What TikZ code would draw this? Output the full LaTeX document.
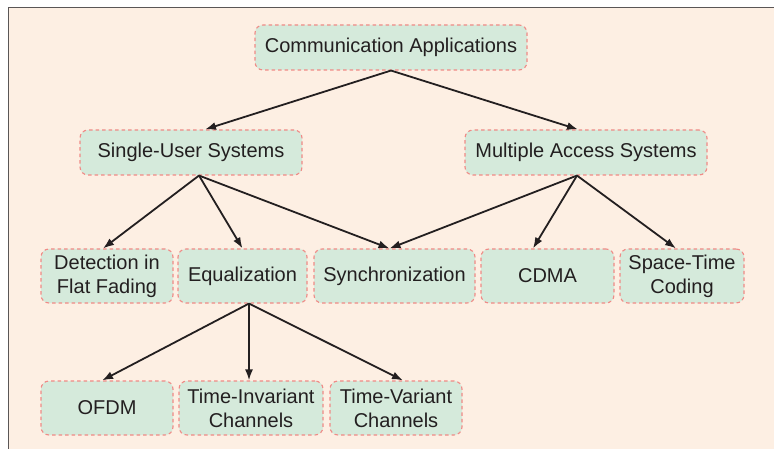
\documentclass[tikz,border=0pt]{standalone}
\usepackage{fontspec}
\setmainfont{Liberation Sans}
\usetikzlibrary{arrows.meta}
\definecolor{bgbeige}{HTML}{FDEFE3}
\definecolor{boxgreen}{HTML}{D5EADB}
\definecolor{boxedge}{HTML}{F08A86}
\definecolor{inkdark}{HTML}{231F20}
\definecolor{framegray}{HTML}{5A5656}
\begin{document}
\begin{tikzpicture}[x=1pt,y=-1pt,
  topic/.style={draw=boxedge, fill=boxgreen, line width=1.1pt, dash pattern=on 3.5pt off 3pt,
    rounded corners=8pt, inner sep=0pt, text=inkdark, align=center,
    font=\fontsize{20}{24}\selectfont, minimum height=45pt},
  tall/.style={minimum height=54pt},
  link/.style={draw=inkdark, line width=1.8pt, -{Latex[length=11pt,width=8pt]}}
]
\useasboundingbox (0,0) rectangle (774,449);
\fill[white] (0,0) rectangle (774,449);
\fill[bgbeige] (8.5,7.5) rectangle (774,449);
\draw[framegray, line width=1.5pt] (8.5,449) -- (8.5,7.5) -- (774,7.5);

\node[topic, minimum width=272pt] (comm) at (391,47.5) {Communication Applications};
\node[topic, minimum width=222pt] (single) at (191,152.5) {Single-User Systems};
\node[topic, minimum width=242pt] (multi) at (586,152.5) {Multiple Access Systems};

\node[topic, tall, minimum width=132pt] (det) at (107,276) {Detection in\\Flat Fading};
\node[topic, tall, minimum width=129pt] (eq) at (242.5,276) {Equalization};
\node[topic, tall, minimum width=161pt] (sync) at (394.5,276) {Synchronization};
\node[topic, tall, minimum width=133pt] (cdma) at (547.5,276) {CDMA};
\node[topic, tall, minimum width=124pt] (stc) at (682,276) {Space-Time\\Coding};

\node[topic, tall, minimum width=132pt] (ofdm) at (107,408) {OFDM};
\node[topic, tall, minimum width=144pt] (tinv) at (251,408) {Time-Invariant\\Channels};
\node[topic, tall, minimum width=132pt] (tvar) at (396,408) {Time-Variant\\Channels};

\draw[link] (comm.south) -- ([xshift=14pt]single.north);
\draw[link] (comm.south) -- ([xshift=-8pt]multi.north);

\draw[link] ([xshift=8pt]single.south) -- ([xshift=-4pt]det.north);
\draw[link] ([xshift=8pt]single.south) -- (eq.north);
\draw[link] ([xshift=8pt]single.south) -- ([xshift=-5pt]sync.north);

\draw[link] ([xshift=-9pt]multi.south) -- ([xshift=-5pt]sync.north);
\draw[link] ([xshift=-9pt]multi.south) -- ([xshift=-14.5pt]cdma.north);
\draw[link] ([xshift=-9pt]multi.south) -- ([xshift=-6pt]stc.north);

\draw[link] ([xshift=6.5pt]eq.south) -- ([xshift=-5pt]ofdm.north);
\draw[link] ([xshift=6.5pt]eq.south) -- ([xshift=-2pt]tinv.north);
\draw[link] ([xshift=6.5pt]eq.south) -- ([xshift=7pt]tvar.north);
\end{tikzpicture}
\end{document}
